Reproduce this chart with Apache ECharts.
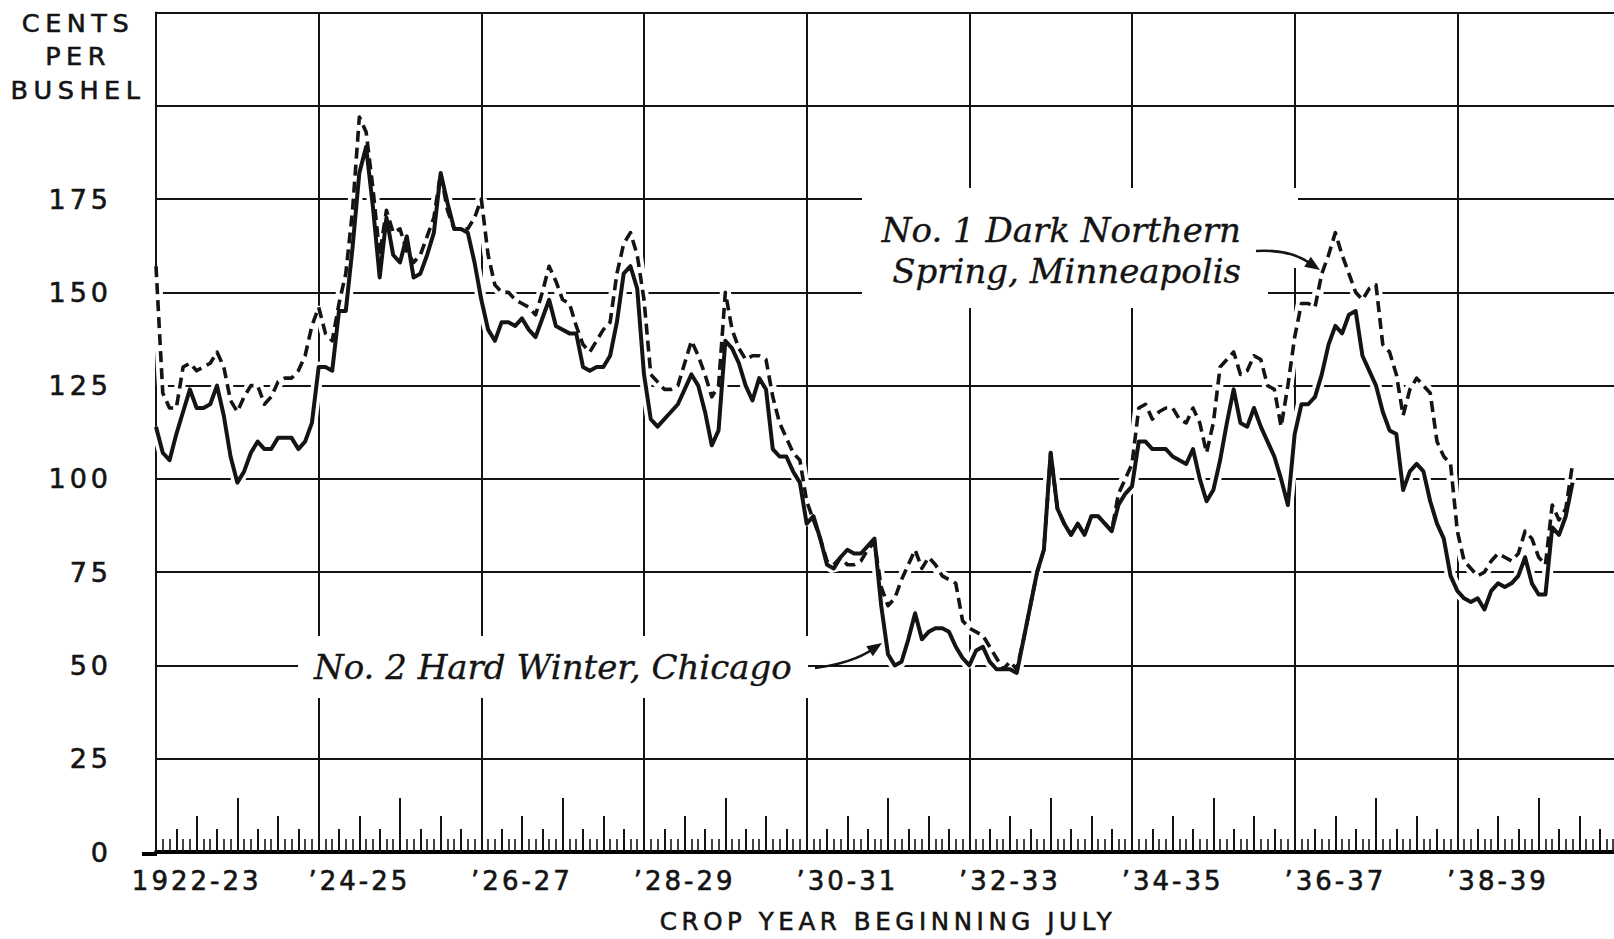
<!DOCTYPE html>
<html>
<head>
<meta charset="utf-8">
<script src="https://cdn.jsdelivr.net/npm/echarts@6/dist/echarts.min.js"></script>
<style>
html,body{margin:0;padding:0;background:#fff;overflow:hidden;}
#chart{width:1620px;height:939px;}
#chart svg text{letter-spacing:3px;stroke:#141414;stroke-width:0.6px;}
#chart svg text[style*="27px"]{letter-spacing:4px;}
#chart svg text[style*="25.5px"]{letter-spacing:5.5px;}
#chart svg text[style*="24.5px"]{letter-spacing:4.6px;}
#chart svg text[style*="italic"]{letter-spacing:0;stroke-width:0.35px;}
</style>
</head>
<body>
<div id="chart"></div>
<script>
// Crop years (each starting July); labels shown every other year
const cropYears = ['1922-23', '\u201923-24', '\u201924-25', '\u201925-26', '\u201926-27', '\u201927-28',
  '\u201928-29', '\u201929-30', '\u201930-31', '\u201931-32', '\u201932-33', '\u201933-34',
  '\u201934-35', '\u201935-36', '\u201936-37', '\u201937-38', '\u201938-39', '\u201939-40'];

// Y axis tick values that carry a label
const yTickLabels = [0, 25, 50, 75, 100, 125, 150, 175];

// Monthly prices, cents per bushel, July 1922 onward
const minneapolis = [
  157,123,119,119,130,131,129,130,131,134,
  130,121,118,122,125,125,120,122,126,127,
  127,129,133,141,146,139,137,147,155,172,
  197,193,178,160,172,166,167,161,158,160,
  165,170,182,172,167,167,167,170,175,160,
  152,150,150,148,147,146,144,150,157,153,
  148,147,141,136,134,137,140,142,155,163,
  166,160,148,128,126,124,124,125,131,137,
  133,128,122,125,150,140,135,132,133,133,
  132,122,115,111,107,105,94,89,84,78,
  77,79,77,77,78,81,83,71,66,68,
  73,77,81,76,79,77,74,73,72,62,
  60,59,58,55,52,49,51,49,57,66,
  75,81,107,92,88,85,88,85,90,90,
  88,86,96,100,104,119,120,116,118,119,
  119,116,115,119,115,107,115,130,132,134,
  128,129,133,132,125,124,114,125,138,147,
  147,146,155,160,166,160,155,150,148,151,
  152,136,134,128,117,124,127,125,123,110,
  106,104,86,78,76,74,75,78,80,79,
  78,80,86,84,79,77,93,89,92,104
];

const chicago = [
  114,107,105,112,118,124,119,119,120,125,
  117,106,99,102,107,110,108,108,111,111,
  111,108,110,115,130,130,129,145,145,162,
  182,189,173,154,170,160,158,165,154,155,
  160,166,182,174,167,167,166,158,148,140,
  137,142,142,141,143,140,138,143,148,141,
  140,139,139,130,129,130,130,133,142,155,
  157,151,128,116,114,116,118,120,124,128,
  125,118,109,113,137,135,131,125,121,127,
  124,108,106,106,102,99,88,90,84,77,
  76,79,81,80,80,82,84,66,53,50,
  51,57,64,57,59,60,60,59,55,52,
  50,54,55,51,49,49,49,48,57,66,
  75,81,107,92,88,85,88,85,90,90,
  88,86,93,96,98,110,110,108,108,108,
  106,105,104,108,100,94,97,105,115,124,
  115,114,119,114,110,106,100,93,112,120,
  120,122,128,136,141,139,144,145,133,129,
  125,118,113,112,97,102,104,102,94,88,
  84,74,70,68,67,68,65,70,72,71,
  72,74,79,72,69,69,87,85,90,99
];

const seriesNames = ['No. 1 Dark Northern Spring, Minneapolis', 'No. 2 Hard Winter, Chicago'];

const MONTHS = cropYears.length * 12;
const toPairs = arr => arr.map((v, i) => [i, v]);

const chart = echarts.init(document.getElementById('chart'), null, {renderer: 'svg'});

const INK = '#141414';
const sans = 'DejaVu Sans';
const serif = 'DejaVu Serif';

function tickAxis(interval, len, width, extra) {
  return Object.assign({
    type: 'value', min: 0, max: MONTHS, interval: interval, position: 'bottom',
    axisLine: {show: false}, splitLine: {show: false}, axisLabel: {show: false},
    axisTick: {show: true, inside: true, length: len, lineStyle: {color: INK, width: width}}
  }, extra || {});
}

function arrowHead(tx, ty, fx, fy, len, half) {
  const a = Math.atan2(ty - fy, tx - fx);
  const bx = tx - len * Math.cos(a), by = ty - len * Math.sin(a);
  const nx = -Math.sin(a) * half, ny = Math.cos(a) * half;
  return [[tx, ty], [bx + nx, by + ny], [bx - nx, by - ny]];
}

const option = {
  backgroundColor: '#ffffff',
  animation: false,
  grid: {left: 156, top: 12.5, width: 1464, height: 841.5, containLabel: false},
  xAxis: [
    {
      type: 'value', min: 0, max: MONTHS, interval: 24, position: 'bottom',
      axisLine: {show: true, onZero: false, lineStyle: {color: '#000', width: 4}},
      axisTick: {show: false}, axisLabel: {show: false},
      splitLine: {show: true, lineStyle: {color: INK, width: 2}}
    },
    tickAxis(12, 54, 2),
    tickAxis(6, 36, 2),
    tickAxis(3, 23, 2, {minorTick: {show: true, splitNumber: 3, length: 13, lineStyle: {color: INK, width: 1.6}}}),
    {
      type: 'category', data: cropYears, boundaryGap: true, position: 'bottom',
      axisLine: {show: false}, axisTick: {show: false}, splitLine: {show: false},
      axisLabel: {show: true, interval: 1, margin: 16, color: INK, fontSize: 26, fontFamily: sans},
      name: 'CROP YEAR BEGINNING JULY', nameLocation: 'middle', nameGap: 57,
      nameTextStyle: {color: INK, fontSize: 24.5, fontFamily: sans}
    }
  ],
  yAxis: {
    type: 'value', min: 0, max: 225, interval: 25,
    axisLine: {show: true, lineStyle: {color: INK, width: 2}},
    axisTick: {show: false},
    splitLine: {show: true, lineStyle: {color: INK, width: 2}},
    axisLabel: {
      show: true, margin: 44, color: INK, fontSize: 27, fontFamily: sans,
      formatter: v => (yTickLabels.indexOf(v) >= 0 ? String(v) : '')
    }
  },
  series: [
    {
      name: seriesNames[0] + ' halo', type: 'line', data: toPairs(minneapolis), xAxisIndex: 0,
      showSymbol: false, silent: true, z: 2,
      lineStyle: {color: '#ffffff', width: 11}
    },
    {
      name: seriesNames[1] + ' halo', type: 'line', data: toPairs(chicago), xAxisIndex: 0,
      showSymbol: false, silent: true, z: 2,
      lineStyle: {color: '#ffffff', width: 11}
    },
    {
      name: seriesNames[0], type: 'line', data: toPairs(minneapolis), xAxisIndex: 0,
      showSymbol: false, z: 4,
      lineStyle: {color: INK, width: 3.6, type: [11, 6], cap: 'butt', join: 'round'}
    },
    {
      name: seriesNames[1], type: 'line', data: toPairs(chicago), xAxisIndex: 0,
      showSymbol: false, z: 5,
      lineStyle: {color: INK, width: 4, type: 'solid', join: 'round'}
    }
  ],
  graphic: [
    {type: 'rect', z: 1, shape: {x: 862, y: 188, width: 406, height: 120}, style: {fill: '#ffffff'}},
    {type: 'rect', z: 1, shape: {x: 1268, y: 188, width: 30, height: 80}, style: {fill: '#ffffff'}},
    {type: 'rect', z: 1, shape: {x: 298, y: 636, width: 510, height: 62}, style: {fill: '#ffffff'}},
    {type: 'rect', z: 1, shape: {x: 142, y: 852, width: 15, height: 4}, style: {fill: '#000'}},
    {
      type: 'text', z: 10,
      style: {text: 'CENTS\nPER\nBUSHEL', x: 78, y: 56, textAlign: 'center', textVerticalAlign: 'middle',
        fontSize: 25.5, fontFamily: sans, lineHeight: 33.5, fill: INK}
    },
    {
      type: 'text', z: 10,
      style: {text: 'No. 1 Dark Northern\nSpring, Minneapolis', x: 1241, y: 250, textAlign: 'right',
        textVerticalAlign: 'middle', fontSize: 34, fontStyle: 'italic', fontFamily: serif, lineHeight: 41, fill: INK}
    },
    {
      type: 'text', z: 10,
      style: {text: 'No. 2 Hard Winter, Chicago', x: 314, y: 667, textAlign: 'left',
        textVerticalAlign: 'middle', fontSize: 34, fontStyle: 'italic', fontFamily: serif, fill: INK}
    },
    {
      type: 'bezierCurve', z: 10,
      shape: {x1: 1256, y1: 251, cpx1: 1291, cpy1: 249, x2: 1311, y2: 264},
      style: {stroke: INK, lineWidth: 2.6, fill: null}
    },
    {type: 'polygon', z: 10, shape: {points: arrowHead(1320, 270, 1299, 256, 15, 6)}, style: {fill: INK}},
    {
      type: 'bezierCurve', z: 10,
      shape: {x1: 815, y1: 668, cpx1: 853, cpy1: 663, x2: 873, y2: 649},
      style: {stroke: INK, lineWidth: 2.6, fill: null}
    },
    {type: 'polygon', z: 10, shape: {points: arrowHead(882, 643, 861, 657, 15, 6)}, style: {fill: INK}}
  ]
};

chart.setOption(option);
</script>
</body>
</html>
